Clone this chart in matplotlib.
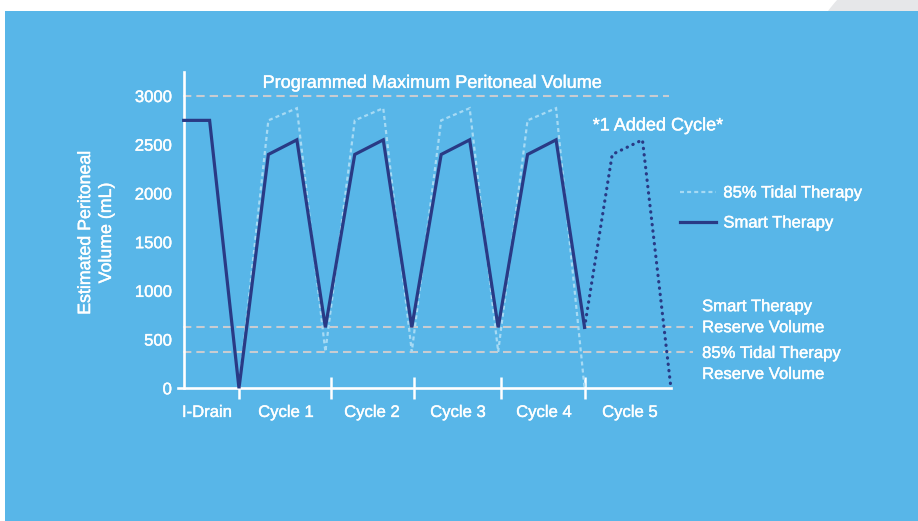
import matplotlib
matplotlib.use("Agg")
import matplotlib.pyplot as plt
import matplotlib.patheffects as pe
from matplotlib.patches import Rectangle, Ellipse

plt.rcParams['font.family'] = ['Liberation Sans', 'DejaVu Sans']

# x in cycle units (0 = end of initial drain), y in mL
smart_x = [-0.64, -0.34, 0.0, 0.34, 0.67, 1.0, 1.34, 1.67, 2.0, 2.34, 2.67, 3.0, 3.34, 3.67, 4.0]
smart_y = [2750, 2750, 0, 2400, 2550, 625, 2400, 2550, 625, 2400, 2550, 625, 2400, 2550, 625]
added_x = [4.0, 4.32, 4.67, 5.0]
added_y = [625, 2400, 2550, 0]
tidal_x = [0.0, 0.34, 0.67, 1.0, 1.34, 1.67, 2.0, 2.34, 2.67, 3.0, 3.34, 3.67, 4.0]
tidal_y = [0, 2750, 2875, 375, 2750, 2875, 375, 2750, 2875, 375, 2750, 2875, 0]

max_volume = 3000
smart_reserve = 625
tidal_reserve = 375

cycle_edges = [0.0, 1.065, 2.025, 3.03, 4.0]
cycle_labels = ["I-Drain", "Cycle 1", "Cycle 2", "Cycle 3", "Cycle 4", "Cycle 5"]
cycle_label_pos = [-0.37, 0.544, 1.54, 2.535, 3.53, 4.525]
y_ticks = [0, 500, 1000, 1500, 2000, 2500, 3000]

navy = "#293a85"
light = "#a6daf4"
grey = "#c8ccd1"
bg = "#58b6e8"
thick = [pe.withStroke(linewidth=0.3, foreground="white")]

W, H = 918, 521
fig = plt.figure(figsize=(W / 100, H / 100), dpi=100)
fig.patch.set_facecolor("white")
fig.patches.append(Ellipse((960 / W, 1 - 110 / H), 330 / W, 330 / H, transform=fig.transFigure,
                           facecolor="#e6e7e9", edgecolor="none", zorder=-3))
fig.patches.append(Rectangle((5 / W, 0), 1 - 5 / W, 1 - 11 / H, transform=fig.transFigure,
                             facecolor=bg, edgecolor="none", zorder=-2))

ax = fig.add_axes([176 / W, (H - 418) / H, (700 - 176) / W, (418 - 70) / H])
ax.patch.set_visible(False)
ax.set_xlim(-0.729, 5.336)
ax.set_ylim(-305, 3267)

# reference lines
ax.hlines(max_volume, -0.65, 4.98, colors=grey, lw=1.5, linestyles=(0, (4, 2.4)), zorder=1)
ax.hlines([smart_reserve, tidal_reserve], -0.65, 5.25, colors=grey, lw=1.5,
          linestyles=(0, (4, 2.4)), zorder=1, clip_on=False)

tidal_line, = ax.plot(tidal_x, tidal_y, color=light, lw=1.6, ls=(0, (1.8, 1.4)),
                      dash_joinstyle="miter", zorder=2)
smart_line, = ax.plot(smart_x, smart_y, color=navy, lw=2.3,
                      solid_joinstyle="miter", zorder=4, clip_on=False)
ax.plot(added_x, added_y, color=navy, lw=2.3, ls=(0, (0.1, 1.9)),
        dash_capstyle="round", zorder=4)

for s in ["top", "right"]:
    ax.spines[s].set_visible(False)
ax.spines["left"].set_position(("data", -0.64))
ax.spines["left"].set_bounds(0, 3250)
ax.spines["bottom"].set_position(("data", 0))
ax.spines["bottom"].set_bounds(-0.71, 5.0)
for s in ["left", "bottom"]:
    ax.spines[s].set_color("white")
    ax.spines[s].set_linewidth(1.9)
    ax.spines[s].set_zorder(3)

ax.set_yticks(y_ticks)
ax.tick_params(axis="y", length=0, pad=8.5, labelsize=12, labelcolor="white")
ax.set_xticks(cycle_edges)
ax.set_xticks(cycle_label_pos, minor=True)
ax.set_xticklabels([""] * len(cycle_edges))
ax.set_xticklabels(cycle_labels, minor=True)
ax.tick_params(axis="x", which="major", direction="inout", length=16, width=1.8, color="white")
ax.tick_params(axis="x", which="minor", length=0, pad=12, labelsize=12, labelcolor="white")
for lbl in ax.get_yticklabels() + ax.get_xticklabels(minor=True):
    lbl.set_path_effects(thick)

fig.text(96 / W, 1 - 233 / H, "Estimated Peritoneal\nVolume (mL)", rotation=90,
         ha="center", va="center", color="white", fontsize=12.8, linespacing=1.3,
         path_effects=thick)

ax.text(2.234, 3130, "Programmed Maximum Peritoneal Volume", ha="center", va="center",
        color="white", fontsize=13, path_effects=thick)
ax.text(4.85, 2693, "*1 Added Cycle*", ha="center", va="center", color="white", fontsize=13,
        path_effects=thick)
ax.text(5.36, 730, "Smart Therapy\nReserve Volume", ha="left", va="center",
        color="white", fontsize=12, linespacing=1.5, path_effects=thick)
ax.text(5.36, 250, "85% Tidal Therapy\nReserve Volume", ha="left", va="center",
        color="white", fontsize=12, linespacing=1.5, path_effects=thick)

leg = ax.legend([tidal_line, smart_line], ["85% Tidal Therapy", "Smart Therapy"],
                loc="center left", bbox_to_anchor=(680 / W, 1 - 208 / H),
                bbox_transform=fig.transFigure, frameon=False, fontsize=12, labelcolor="white",
                handlelength=2.15, handletextpad=0.45, labelspacing=0.9, borderpad=0,
                borderaxespad=0)
for t in leg.get_texts():
    t.set_path_effects(thick)

fig.savefig("out.png", dpi=100)
